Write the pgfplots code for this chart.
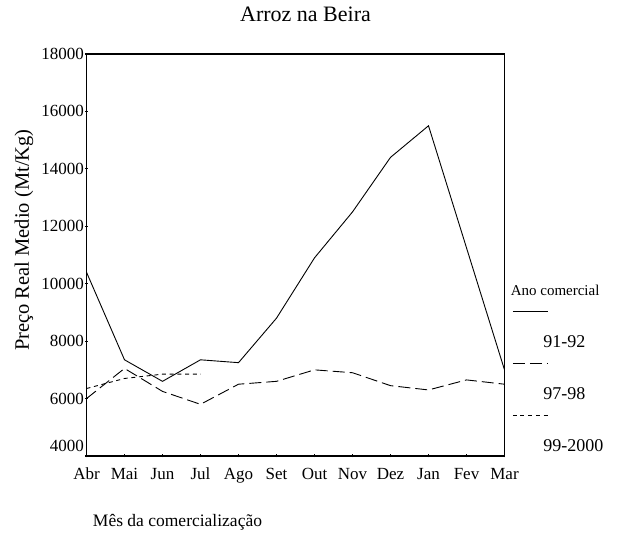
\documentclass[border=0pt]{standalone}
\usepackage{fontspec}
\setmainfont{Liberation Serif}
\usepackage{pgfplots}
\pgfplotsset{compat=1.18}
\begin{document}
\begin{tikzpicture}
\begin{axis}[
  scale only axis, width=418pt, height=402pt,
  xmin=0, xmax=11, ymin=4000, ymax=18000,
  xtick={0,...,11},
  xticklabels={Abr,Mai,Jun,Jul,Ago,Set,Out,Nov,Dez,Jan,Fev,Mar},
  ytick={6000,8000,...,18000},
  scaled y ticks=false,
  extra y ticks={4000},
  extra y tick style={yticklabel style={yshift=10pt}},
  tick pos=left, tick align=center, major tick length=3pt,
  tick style={line width=1.2pt, black},
  axis line style={line width=1.1pt},
  /pgf/number format/assume math mode=true,
  /pgf/number format/set thousands separator={},
  tick label style={font=\fontsize{17}{20}\selectfont},
  yticklabel style={inner xsep=1pt, font=\fontsize{17}{20}\selectfont},
  xticklabel style={anchor=base, yshift=-22pt, font=\fontsize{17}{20}\selectfont},
  title={Arroz na Beira},
  title style={at={(axis description cs:0.524,1.067)}, anchor=base, inner sep=0pt, font=\fontsize{22}{26}\selectfont},
  xlabel={Mês da comercialização},
  xlabel style={at={(axis description cs:0.015,-0.1766)}, anchor=base west, inner sep=0pt, font=\fontsize{17.5}{21}\selectfont},
  ylabel={Preço Real Medio (Mt/Kg)},
  ylabel style={at={(axis description cs:-0.1376,0.537)}, anchor=base, rotate=0, inner sep=0pt, font=\fontsize{20.5}{24}\selectfont},
  legend cell align=left,
  legend style={draw=none, fill=none, inner sep=0pt, outer sep=0pt,
    at={(axis description cs:1.093,0.430)}, anchor=north west,
    row sep=36pt,
    nodes={inner sep=0pt, text height=12pt, text depth=4pt, font=\fontsize{18}{21}\selectfont}},
  legend image code/.code={\draw[#1, overlay] (-30.6pt,32pt) -- (5pt,32pt);},
]
\addlegendimage{empty legend}
\addlegendentry{\fontsize{15}{18}\selectfont\hspace*{-32.6pt}Ano comercial}

\addplot[black, line width=0.9pt] coordinates {
 (0,10400) (1,7350) (2,6600) (3,7350) (4,7250) (5,8800) (6,10900) (7,12500) (8,14400) (9,15500) (10,11250) (11,7000)};
\addlegendentry{91-92}

\addplot[black, line width=0.9pt, dash pattern=on 12pt off 5pt] coordinates {
 (0,6000) (1,7050) (2,6250) (3,5800) (4,6500) (5,6600) (6,7000) (7,6900) (8,6450) (9,6300) (10,6650) (11,6500)};
\addlegendentry{97-98}

\addplot[black, line width=0.9pt, dash pattern=on 4pt off 3.7pt] coordinates {
 (0,6350) (1,6700) (2,6850) (3,6850)};
\addlegendentry{99-2000}

\coordinate (ll) at (rel axis cs:0,0);
\coordinate (ur) at (rel axis cs:1,1);
\end{axis}
\path ([shift={(-86.5pt,-81pt)}]ll) rectangle ([shift={(113.5pt,54pt)}]ur);
\end{tikzpicture}
\end{document}
